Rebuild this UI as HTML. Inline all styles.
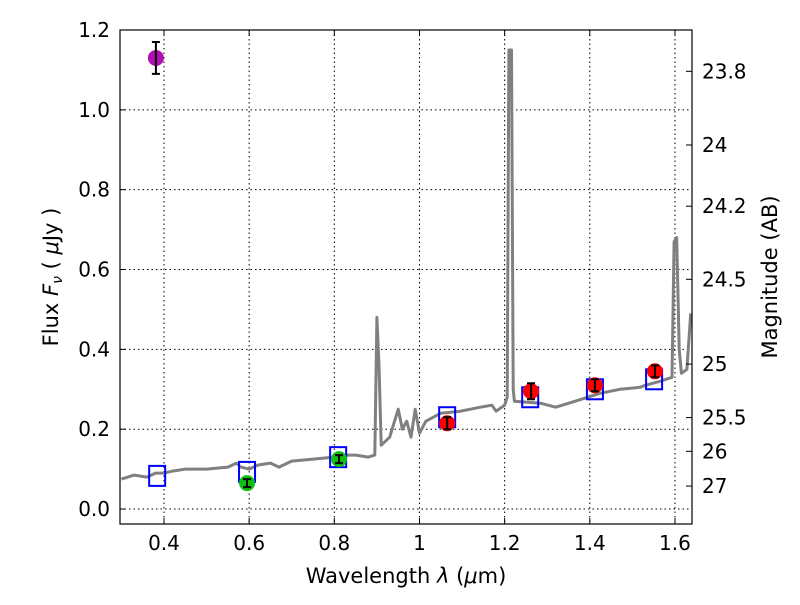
<!DOCTYPE html>
<html><head><meta charset="utf-8"><style>
body{margin:0;background:#fff;}
svg text{font-family:"DejaVu Sans","Liberation Sans",sans-serif;fill:#000;}
</style></head><body>
<svg id="chart" width="800" height="600" xmlns="http://www.w3.org/2000/svg">
<rect width="800" height="600" fill="#fff"/>
<g id="grid"></g>
<g id="spec"></g>
<g id="marks"></g>
<rect x="120" y="30" width="572" height="494" fill="none" stroke="#000" stroke-width="1.2"/>
<g id="axes"></g>
<text x="406" y="583" font-size="21" text-anchor="middle">Wavelength  <tspan font-style="italic">λ</tspan> (<tspan font-style="italic">μ</tspan>m)</text>
<text transform="translate(58,277) rotate(-90)" font-size="21" text-anchor="middle">Flux  <tspan font-style="italic">F<tspan font-size="14" dy="4">ν</tspan></tspan><tspan dy="-4">  ( </tspan><tspan font-style="italic">μ</tspan>Jy )</text>
<text transform="translate(777,277) rotate(-90)" font-size="21" text-anchor="middle">Magnitude (AB)</text>
</svg>
<script>
const specX=[0.30,0.33,0.36,0.38,0.40,0.42,0.45,0.50,0.55,0.57,0.58,0.60,0.62,0.65,0.67,0.70,0.75,0.80,0.82,0.85,0.88,0.895,0.90,0.905,0.91,0.93,0.95,0.96,0.97,0.98,0.99,1.0,1.015,1.05,1.096,1.143,1.17,1.18,1.20,1.206,1.210,1.216,1.220,1.223,1.284,1.32,1.366,1.424,1.471,1.518,1.53,1.565,1.593,1.598,1.604,1.61,1.615,1.628,1.637];
const specY=[0.075,0.085,0.08,0.09,0.09,0.095,0.10,0.10,0.105,0.115,0.105,0.10,0.11,0.115,0.105,0.12,0.125,0.13,0.135,0.135,0.13,0.135,0.48,0.36,0.16,0.18,0.25,0.20,0.22,0.18,0.25,0.19,0.22,0.24,0.245,0.255,0.26,0.245,0.26,0.28,1.15,1.15,0.30,0.27,0.265,0.255,0.27,0.29,0.30,0.305,0.31,0.32,0.33,0.67,0.68,0.40,0.34,0.35,0.49];
const ptX=[0.381,0.595,0.811,1.065,1.262,1.412,1.553];
const ptY=[1.13,0.065,0.125,0.215,0.295,0.31,0.345];
const ptErr=[0.04,0.01,0.01,0.015,0.02,0.015,0.015];
const ptColor=["#b010b0","#10c010","#10c010","#ff0000","#ff0000","#ff0000","#ff0000"];
const modelX=[0.384,0.595,0.809,1.065,1.26,1.412,1.551];
const modelY=[0.083,0.093,0.13,0.23,0.28,0.30,0.325];
const xTicks=[0.4,0.6,0.8,1.0,1.2,1.4,1.6];
const xTickLabels=["0.4","0.6","0.8","1","1.2","1.4","1.6"];
const yTicks=[0,0.2,0.4,0.6,0.8,1.0,1.2];
const yTickLabels=["0.0","0.2","0.4","0.6","0.8","1.0","1.2"];
const magTicks=[23.8,24,24.2,24.5,25,25.5,26,27];
const magLabels=["23.8","24","24.2","24.5","25","25.5","26","27"];
const X0=120,X1=692,Y0=524,Y1=30,xmin=0.2967,xmax=1.64,ymin=-0.0375,ymax=1.2;
const sx=v=>X0+(v-xmin)/(xmax-xmin)*(X1-X0);
const sy=v=>Y0-(v-ymin)/(ymax-ymin)*(Y0-Y1);
const NS="http://www.w3.org/2000/svg";
function mk(t,a,p){const e=document.createElementNS(NS,t);for(const k in a)e.setAttribute(k,a[k]);p.appendChild(e);return e;}
const grid=document.getElementById('grid'),axes=document.getElementById('axes'),spec=document.getElementById('spec'),marks=document.getElementById('marks');
xTicks.forEach((v,i)=>{const x=sx(v);
 let g=mk('line',{x1:x,x2:x,y1:Y1,y2:Y0,stroke:'#000','stroke-dasharray':'1.5,3','stroke-width':1},grid);
 
 mk('line',{x1:x,x2:x,y1:Y0,y2:Y0-6,stroke:'#000'},axes);mk('line',{x1:x,x2:x,y1:Y1,y2:Y1+6,stroke:'#000'},axes);
 let t=mk('text',{x:x,y:Y0+26,'font-size':20,'text-anchor':'middle'},axes);t.textContent=xTickLabels[i];
 });
yTicks.forEach((v,i)=>{const y=sy(v);
 let g=mk('line',{x1:X0,x2:X1,y1:y,y2:y,stroke:'#000','stroke-dasharray':'1.5,3','stroke-width':1},grid);
 
 mk('line',{x1:X0,x2:X0+6,y1:y,y2:y,stroke:'#000'},axes);
 let t=mk('text',{x:X0-10,y:y+7,'font-size':20,'text-anchor':'end'},axes);t.textContent=yTickLabels[i];
 });
magTicks.forEach((m,i)=>{const y=sy(Math.pow(10,(23.9-m)/2.5));
 mk('line',{x1:X1,x2:X1-6,y1:y,y2:y,stroke:'#000'},axes);
 let t=mk('text',{x:X1+10,y:y+7,'font-size':20},axes);t.textContent=magLabels[i];
 });
let d=specX.map((v,i)=>(i?'L':'M')+sx(v).toFixed(1)+','+sy(specY[i]).toFixed(1)).join('');
let p=mk('path',{d:d,fill:'none',stroke:'#808080','stroke-width':3,'stroke-linejoin':'round'},spec);

modelX.forEach((v,i)=>{let r=mk('rect',{x:sx(v)-8,y:sy(modelY[i])-10,width:16,height:20,fill:'none',stroke:'#0000ff','stroke-width':2},marks);
 });
ptX.forEach((v,i)=>{const x=sx(v),y=sy(ptY[i]);
 let c=mk('circle',{cx:x,cy:y,r:8,fill:ptColor[i]},marks);
 
 const ya=sy(ptY[i]+ptErr[i]),yb=sy(ptY[i]-ptErr[i]);
 let e=mk('path',{d:`M${x},${ya}L${x},${yb}M${x-4},${ya}L${x+4},${ya}M${x-4},${yb}L${x+4},${yb}`,stroke:'#000','stroke-width':2,fill:'none'},marks);
 });
</script>
</body></html>
